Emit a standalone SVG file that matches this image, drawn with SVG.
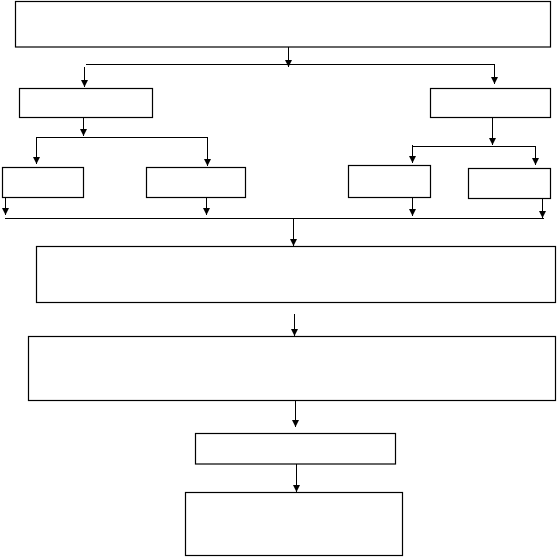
<svg xmlns="http://www.w3.org/2000/svg" width="557" height="557" viewBox="0 0 557 557">
<style>
.box{fill:#fff;stroke:#000;stroke-width:1.2}
.ln{fill:none;stroke:#000;stroke-width:1}
.ar{fill:none;stroke:#000;stroke-width:1;marker-end:url(#ah)}
</style>
<defs>
<marker id="ah" markerUnits="userSpaceOnUse" markerWidth="8" markerHeight="8" refX="7" refY="3.5" orient="auto">
<path d="M0,0 L7,3.5 L0,7 z" fill="#000"/>
</marker>
</defs>
<rect width="557" height="557" fill="#fff"/>
<g id="n-top"><rect class="box" x="15.5" y="1.5" width="535" height="45.5"/></g>
<g id="n-left"><rect class="box" x="19.5" y="88.5" width="133" height="29"/></g>
<g id="n-right"><rect class="box" x="430.5" y="88.5" width="120" height="29"/></g>
<g id="n-a"><rect class="box" x="2.5" y="167.5" width="81" height="30"/></g>
<g id="n-b"><rect class="box" x="146.5" y="167.5" width="99" height="30"/></g>
<g id="n-c"><rect class="box" x="348.5" y="165.5" width="82" height="32"/></g>
<g id="n-d"><rect class="box" x="468.5" y="168.5" width="82" height="30"/></g>
<g id="n-e"><rect class="box" x="36.5" y="246.5" width="519" height="56"/></g>
<g id="n-f"><rect class="box" x="28.5" y="336.5" width="527" height="64"/></g>
<g id="n-g"><rect class="box" x="195.5" y="433.5" width="200" height="30.5"/></g>
<g id="n-h"><rect class="box" x="185.5" y="492.5" width="217" height="63"/></g>
<g id="connectors">
<path class="ar" d="M288.5,47 V67"/>
<path class="ln" d="M86,64.5 H494.5"/>
<path class="ar" d="M84.5,67 V87"/>
<path class="ar" d="M494.5,64 V84"/>
<path class="ar" d="M83.5,118 V136"/>
<path class="ln" d="M36,137.5 H207"/>
<path class="ar" d="M36.5,137 V164"/>
<path class="ar" d="M207.5,137 V166"/>
<path class="ar" d="M5.5,198 V215"/>
<path class="ar" d="M206.5,198 V215"/>
<path class="ln" d="M5,218.5 H544"/>
<path class="ar" d="M492.5,118 V145"/>
<path class="ln" d="M412.5,146.5 H535.5"/>
<path class="ar" d="M412.5,145 V163"/>
<path class="ar" d="M535.5,146 V165"/>
<path class="ar" d="M412.5,198 V216"/>
<path class="ar" d="M542.5,199 V218"/>
<path class="ar" d="M293.5,218 V246"/>
<path class="ar" d="M294.5,314 V336"/>
<path class="ar" d="M295.5,401 V427"/>
<path class="ar" d="M296.5,464 V492"/>
</g>
</svg>
